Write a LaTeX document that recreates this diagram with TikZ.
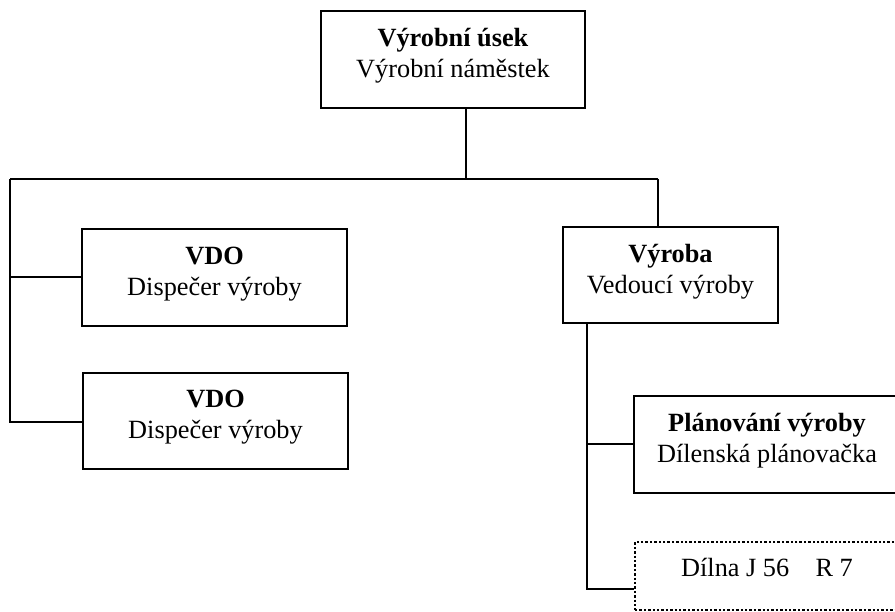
\documentclass[tikz,border=0pt]{standalone}
\usepackage{fontspec}
\setmainfont{Liberation Serif}
\begin{document}
\begin{tikzpicture}[x=1pt,y=-1pt,
  every node/.style={font=\fontsize{26.3}{31}\selectfont, align=center, inner sep=0pt},
  unit/.style={draw, line width=2pt, rectangle},
  dotbox/.style={draw, line width=2.2pt, dash pattern=on 2.4pt off 2pt, rectangle},
  caption/.style={yshift=3.5pt},
  link/.style={draw, line width=2pt}]
\useasboundingbox (0,0) rectangle (895,612);
\clip (0,0) rectangle (895,612);

% management
\node[unit, minimum width=264pt, minimum height=97pt] (top) at (453,59.5) {};
\node[caption] (topT) at (top.center) {\textbf{Výrobní úsek}\\Výrobní náměstek};

% dispatch units
\node[unit, minimum width=265pt, minimum height=97pt] (vdoA) at (214.5,277.5) {};
\node[caption] (vdoAT) at (vdoA.center) {\textbf{VDO}\\Dispečer výroby};
\node[unit, minimum width=265pt, minimum height=96pt] (vdoB) at (215.5,421) {};
\node[caption] (vdoBT) at (vdoB.center) {\textbf{VDO}\\Dispečer výroby};

% production
\node[unit, minimum width=215pt, minimum height=96pt] (vyroba) at (670.5,275) {};
\node[caption] (vyrobaT) at (vyroba.center) {\textbf{Výroba}\\Vedoucí výroby};

% planning
\node[unit, minimum width=266pt, minimum height=97pt] (plan) at (767,444.5) {};
\node[caption] (planT) at (plan.center) {\textbf{Plánování výroby}\\Dílenská plánovačka};

% workshop
\node[dotbox, minimum width=265pt, minimum height=68pt] (dilna) at (767.5,576) {};
\node[anchor=base] (dilnaT) at (767,576.5) {Dílna J 56\hspace{1em}R 7};

% connector junctions
\coordinate (bus) at (466,179);
\coordinate (busL) at (10,179);
\coordinate (busR) at (658,179);
\coordinate (leftA) at (10,277.5);
\coordinate (leftB) at (10,422);
\coordinate (trunk) at (587,323);
\coordinate (trunkA) at (587,444.5);
\coordinate (trunkB) at (587,589);

\draw[link] (top.south -| bus) -- (bus);
\draw[link] (busL) -- (busR);
\draw[link] (busR) -- (vyroba.north -| busR);
\draw[link] (busL) -- (leftB) -- (vdoB.west |- leftB);
\draw[link] (leftA) -- (vdoA.west);
\draw[link] (vyroba.south -| trunk) -- (trunkB) -- (dilna.west |- trunkB);
\draw[link] (trunkA) -- (plan.west);
\end{tikzpicture}
\end{document}
